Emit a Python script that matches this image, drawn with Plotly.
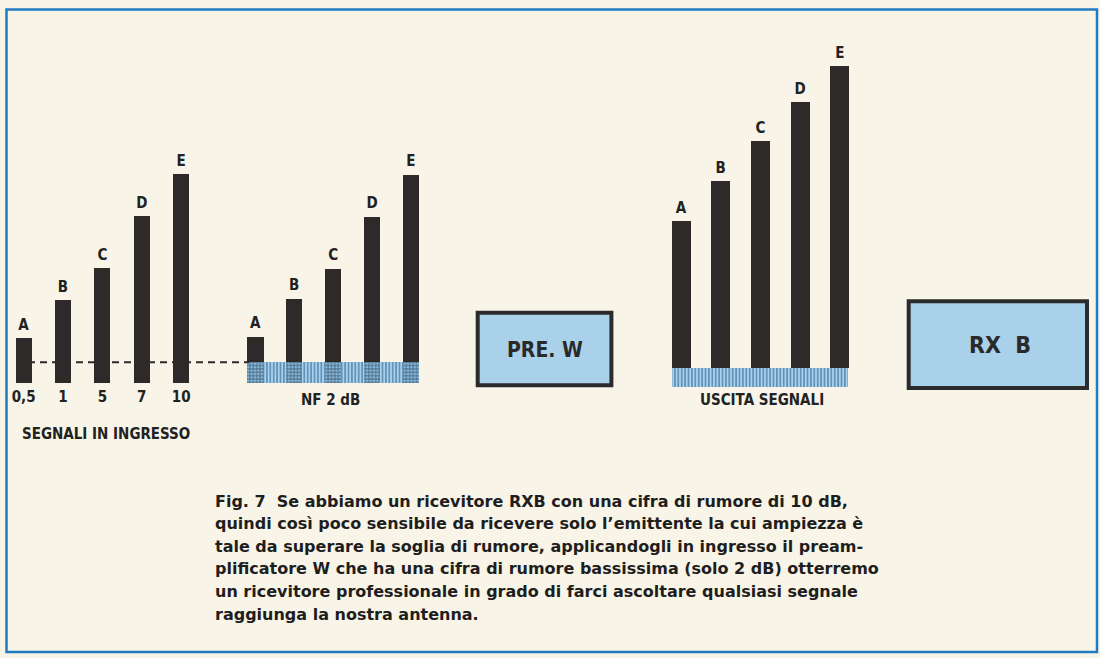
import plotly.graph_objects as go

W, H = 1100, 658

# ---- data ----
signal_labels = ["A", "B", "C", "D", "E"]
input_tick_labels = ["0,5", "1", "5", "7", "10"]
input_levels = [45, 83, 115, 167, 209]      # input signals
preamp_levels = [46, 84, 114, 166, 208]     # signals at preamp W (NF 2 dB)
output_levels = [147, 187, 227, 266, 302]   # signals at output of preamp
preamp_noise = 20.4                          # noise band of the preamp
output_noise = 19.3                          # noise band at the output
input_title = "SEGNALI IN INGRESSO"
preamp_title = "NF 2 dB"
output_title = "USCITA SEGNALI"
box_labels = ["PRE. W", "RX  B"]
caption_lines = [
    "Fig. 7  Se abbiamo un ricevitore RXB con una cifra di rumore di 10 dB,",
    "quindi così poco sensibile da ricevere solo l’emittente la cui ampiezza è",
    "tale da superare la soglia di rumore, applicandogli in ingresso il pream-",
    "plificatore W che ha una cifra di rumore bassissima (solo 2 dB) otterremo",
    "un ricevitore professionale in grado di farci ascoltare qualsiasi segnale",
    "raggiunga la nostra antenna.",
]

# ---- styles ----
BG = "#f8f4e7"
BAR = "#2e2a29"
BLUE_FRAME = "#1f7cc2"
BOX_FILL = "#a9d1ea"
COND = "Liberation Sans Narrow, DejaVu Sans Condensed, Arial Narrow, sans-serif"
CAP = "DejaVu Sans, Liberation Sans, Arial, sans-serif"


def Y(px):
    return H - px


def centers(x0, step, n):
    return [x0 + i * step for i in range(n)]


g1_x = centers(23.6, 39.4, 5)
g2_x = centers(255.3, 38.9, 5)
g3_x = centers(681.0, 39.7, 5)

STRIPE = dict(shape="|", fgcolor="#24527e", bgcolor="#a6d2ee", size=3.4,
              solidity=0.5)
GRID = dict(shape="+", fgcolor="#262c38", bgcolor="#86bde3", size=3.4,
            solidity=0.55)

fig = go.Figure()

# dashed noise threshold line
fig.add_trace(go.Scatter(x=[16, 249], y=[Y(362.3), Y(362.3)], mode="lines",
                         line=dict(color=BAR, width=2, dash="7px,5px"),
                         hoverinfo="skip"))

# group 1 bars (input)
fig.add_trace(go.Bar(x=g1_x, y=input_levels, base=Y(383), width=16,
                     marker=dict(color=BAR, line=dict(width=0))))

# group 2: noise strip, bars, crosshatch bottoms
fig.add_trace(go.Bar(x=[(246.7 + 418) / 2], y=[preamp_noise], base=Y(382.7),
                     width=418 - 246.7,
                     marker=dict(color="#a6d2ee", line=dict(width=0),
                                 pattern=STRIPE)))
fig.add_trace(go.Bar(x=g2_x, y=preamp_levels, base=Y(382.7), width=16.5,
                     marker=dict(color=BAR, line=dict(width=0))))
fig.add_trace(go.Bar(x=g2_x, y=[preamp_noise] * 5, base=Y(382.7), width=16.5,
                     marker=dict(color="#86bde3", line=dict(width=0),
                                 pattern=GRID)))

# group 3: noise strip and output bars
fig.add_trace(go.Bar(x=[(671.7 + 847.5) / 2], y=[output_noise], base=Y(387.3),
                     width=847.5 - 671.7,
                     marker=dict(color="#a6d2ee", line=dict(width=0),
                                 pattern=STRIPE)))
fig.add_trace(go.Bar(x=g3_x, y=output_levels, base=Y(368), width=19,
                     marker=dict(color=BAR, line=dict(width=0))))

# letter labels above bars
lab_font = dict(family=COND, size=15, color="#222", weight="bold")
fig.add_trace(go.Scatter(x=g1_x, y=[Y(383) + v + 12 for v in input_levels],
                         text=signal_labels, mode="text", textfont=lab_font))
fig.add_trace(go.Scatter(x=g2_x, y=[Y(382.7) + v + 12 for v in preamp_levels],
                         text=signal_labels, mode="text", textfont=lab_font))
fig.add_trace(go.Scatter(x=g3_x, y=[Y(368) + v + 12 for v in output_levels],
                         text=signal_labels, mode="text", textfont=lab_font))
# tick labels under input bars
fig.add_trace(go.Scatter(x=g1_x, y=[Y(398.5)] * 5, text=input_tick_labels,
                         mode="text", textfont=lab_font))

annotations = []
ttl_font = dict(family=COND, size=15, color="#222", weight="bold")
annotations.append(dict(x=20, y=Y(434), text=input_title, xanchor="left",
                        showarrow=False, font=ttl_font))
annotations.append(dict(x=330, y=Y(400), text=preamp_title, showarrow=False,
                        font=ttl_font))
annotations.append(dict(x=762, y=Y(400), text=output_title, showarrow=False,
                        font=ttl_font))
annotations.append(dict(x=545, y=Y(350), text=box_labels[0], showarrow=False,
                        font=dict(family=COND, size=21, color="#2a2a2a",
                                  weight="bold")))
annotations.append(dict(x=1000, y=Y(345), text=box_labels[1], showarrow=False,
                        font=dict(family=COND, size=23, color="#2a2a2a",
                                  weight="bold")))
for i, line in enumerate(caption_lines):
    annotations.append(dict(x=213, y=Y(501 + i * 22.6), text=line,
                            xanchor="left", showarrow=False,
                            font=dict(family=CAP, size=16, color="#1e1e1e",
                                      weight="bold")))

shapes = [
    dict(type="rect", x0=6.5, x1=1097, y0=Y(652), y1=Y(9.5),
         line=dict(color=BLUE_FRAME, width=2.5), fillcolor="rgba(0,0,0,0)",
         layer="below"),
    dict(type="rect", x0=477.7, x1=611.4, y0=Y(385.3), y1=Y(312.7),
         line=dict(color="#2b2b2b", width=4), fillcolor=BOX_FILL),
    dict(type="rect", x0=908.7, x1=1087, y0=Y(388), y1=Y(301.3),
         line=dict(color="#2b2b2b", width=4), fillcolor=BOX_FILL),
]

fig.update_layout(
    width=W, height=H,
    margin=dict(l=0, r=0, t=0, b=0),
    paper_bgcolor=BG, plot_bgcolor=BG,
    barmode="overlay", bargap=0,
    showlegend=False,
    xaxis=dict(range=[0, W], visible=False, fixedrange=True),
    yaxis=dict(range=[0, H], visible=False, fixedrange=True),
    annotations=annotations,
    shapes=shapes,
)

fig.write_html("out.html", config={"displayModeBar": False},
               post_script="document.body.style.margin='0';"
                           "document.body.style.background='" + BG + "';")
